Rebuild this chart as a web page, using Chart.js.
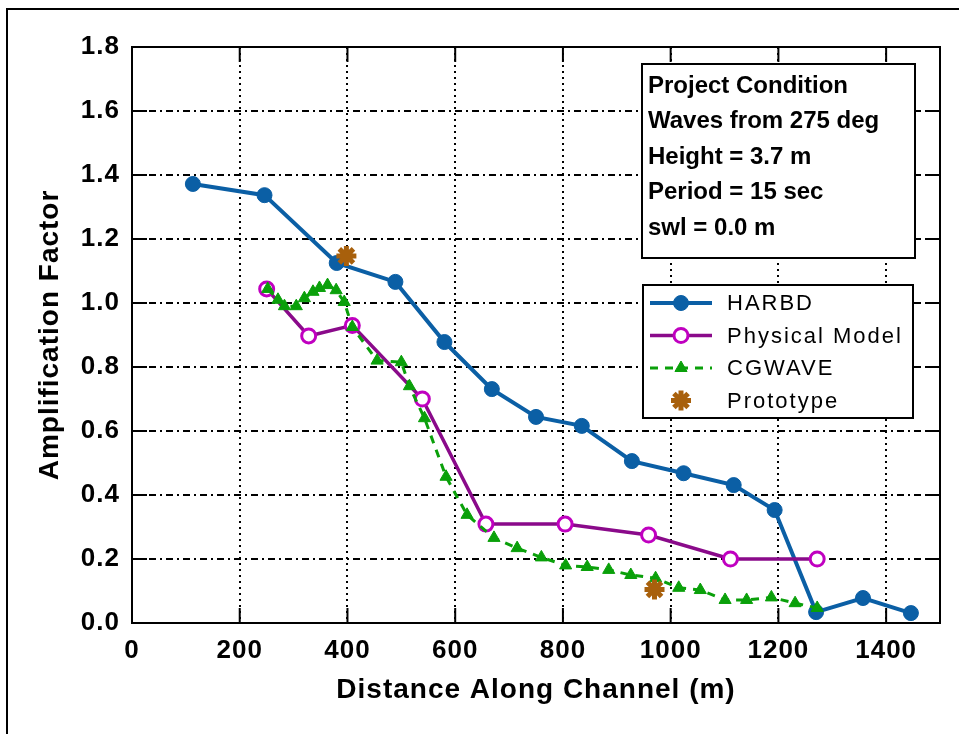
<!DOCTYPE html>
<html>
<head>
<meta charset="utf-8">
<script src="https://cdn.jsdelivr.net/npm/chart.js@4.4.1/dist/chart.umd.min.js"></script>
<style>
  html, body { margin: 0; padding: 0; background: #fff; }
  canvas { display: block; }
</style>
</head>
<body>
<canvas id="chart" width="959" height="734"></canvas>
<script>
// values
const harbdX = [113, 246, 380, 489, 580, 668, 750, 835, 928, 1024, 1117, 1193, 1270, 1357, 1446];
const harbdY = [1.372, 1.337, 1.125, 1.066, 0.878, 0.731, 0.644, 0.616, 0.506, 0.468, 0.431, 0.353, 0.034, 0.078, 0.031];

const physX = [250, 328, 409, 539, 657, 804, 959, 1111, 1272];
const physY = [1.044, 0.897, 0.93, 0.70, 0.309, 0.309, 0.275, 0.20, 0.20];

const cgX = [252, 271, 283, 305, 320, 336, 348, 363, 379, 394, 409, 455, 500, 515, 543, 583, 622, 672, 715, 760, 805, 845, 885, 926, 972, 1015, 1055, 1101, 1141, 1187, 1231, 1272];
const cgY = [1.044, 1.01, 0.99, 0.99, 1.015, 1.035, 1.047, 1.056, 1.04, 1.003, 0.925, 0.82, 0.815, 0.74, 0.64, 0.457, 0.338, 0.266, 0.234, 0.205, 0.18, 0.175, 0.166, 0.15, 0.14, 0.11, 0.103, 0.072, 0.072, 0.08, 0.062, 0.047];

const protoX = [398, 970];
const protoY = [1.147, 0.105];

const infoLines = ['Project Condition', 'Waves from 275 deg', 'Height = 3.7 m', 'Period = 15 sec', 'swl = 0.0 m'];

const FONT = '"Liberation Sans", Arial, Helvetica, sans-serif';

function pts(xs, ys) {
    return xs.map((x, i) => ({ x: x, y: ys[i] }));
}

function drawMarker(c, ds, x, y) {
    const r = ds.pointRadius;
    c.save();
    c.setLineDash([]);
    c.fillStyle = ds.pointBackgroundColor;
    c.strokeStyle = ds.pointBorderColor;
    c.lineWidth = ds.pointBorderWidth;
    c.beginPath();
    if (ds.pointStyle === 'circle') {
        c.arc(x, y, r, 0, Math.PI * 2);
        c.fill();
        c.stroke();
    } else if (ds.pointStyle === 'triangle') {
        c.moveTo(x, y - r);
        c.lineTo(x + r * 0.866, y + r / 2);
        c.lineTo(x - r * 0.866, y + r / 2);
        c.closePath();
        c.fill();
        c.stroke();
    } else {
        for (let k = 0; k < 4; k++) {
            const a = k * Math.PI / 4;
            c.moveTo(x - r * Math.cos(a), y - r * Math.sin(a));
            c.lineTo(x + r * Math.cos(a), y + r * Math.sin(a));
        }
        c.stroke();
    }
    c.restore();
}

const framePlugin = {
    id: 'framePlugin',
    beforeDraw(chart) {
        const c = chart.ctx;
        c.save();
        c.fillStyle = '#fff';
        c.fillRect(0, 0, chart.width, chart.height);
        c.strokeStyle = '#000';
        c.lineWidth = 2;
        c.beginPath();
        c.moveTo(7, chart.height);
        c.lineTo(7, 9);
        c.lineTo(chart.width, 9);
        c.stroke();
        c.restore();
        c.letterSpacing = '1px';
    },
    beforeDatasetsDraw(chart) {
        const c = chart.ctx;
        const a = chart.chartArea;
        const sx = chart.scales.x, sy = chart.scales.y;
        const len = 15;
        c.save();
        c.strokeStyle = '#000';
        c.lineWidth = 2;
        c.setLineDash([]);
        c.strokeRect(a.left, a.top, a.right - a.left, a.bottom - a.top);
        c.beginPath();
        sx.ticks.forEach(t => {
            const px = sx.getPixelForValue(t.value);
            c.moveTo(px, a.bottom); c.lineTo(px, a.bottom - len);
            c.moveTo(px, a.top); c.lineTo(px, a.top + len);
        });
        sy.ticks.forEach(t => {
            const py = sy.getPixelForValue(t.value);
            c.moveTo(a.left, py); c.lineTo(a.left + len, py);
            c.moveTo(a.right, py); c.lineTo(a.right - len, py);
        });
        c.stroke();
        c.restore();
    },
    afterDatasetsDraw(chart) {
        const c = chart.ctx;
        c.save();
        c.setLineDash([]);

        // info box
        c.fillStyle = '#fff';
        c.fillRect(642, 64, 273, 194);
        c.strokeStyle = '#000';
        c.lineWidth = 2;
        c.strokeRect(642, 64, 273, 194);
        c.fillStyle = '#000';
        c.font = 'bold 24px ' + FONT;
        c.letterSpacing = '0px';
        c.textBaseline = 'middle';
        c.textAlign = 'left';
        infoLines.forEach((t, i) => c.fillText(t, 648, 86 + i * 35.5));

        // legend
        c.fillStyle = '#fff';
        c.fillRect(643, 285, 270, 133);
        c.strokeRect(643, 285, 270, 133);
        c.font = '22px ' + FONT;
        c.letterSpacing = '2px';
        chart.data.datasets.forEach((ds, i) => {
            const y = 303 + i * 32.5;
            if (ds.showLine) {
                c.save();
                c.strokeStyle = ds.borderColor;
                c.lineWidth = ds.borderWidth;
                c.setLineDash(ds.borderDash || []);
                c.beginPath();
                c.moveTo(650, y);
                c.lineTo(712, y);
                c.stroke();
                c.restore();
            }
            drawMarker(c, ds, 681, y);
            c.fillStyle = '#000';
            c.fillText(ds.label, 727, y + 1);
        });
        c.restore();
    }
};

const ctx = document.getElementById('chart').getContext('2d');

const chart = new Chart(ctx, {
    type: 'scatter',
    data: {
        datasets: [
            {
                label: 'HARBD',
                data: pts(harbdX, harbdY),
                showLine: true,
                borderColor: '#0B5FA5',
                borderWidth: 4,
                pointStyle: 'circle',
                pointRadius: 7.5,
                pointBackgroundColor: '#0B5FA5',
                pointBorderColor: '#0B5FA5',
                pointBorderWidth: 1,
                order: 4
            },
            {
                label: 'Physical Model',
                data: pts(physX, physY),
                showLine: true,
                borderColor: '#8A0A8A',
                borderWidth: 3.5,
                pointStyle: 'circle',
                pointRadius: 7,
                pointBackgroundColor: '#fff',
                pointBorderColor: '#C000C0',
                pointBorderWidth: 3,
                order: 3
            },
            {
                label: 'CGWAVE',
                data: pts(cgX, cgY),
                showLine: true,
                borderColor: '#0AA00A',
                borderWidth: 3,
                borderDash: [8, 7],
                pointStyle: 'triangle',
                pointRadius: 7,
                pointBackgroundColor: '#0AA00A',
                pointBorderColor: '#0AA00A',
                pointBorderWidth: 1,
                order: 2
            },
            {
                label: 'Prototype',
                data: pts(protoX, protoY),
                showLine: false,
                borderColor: '#A8600C',
                borderWidth: 4,
                pointStyle: 'star',
                pointRadius: 10,
                pointBackgroundColor: '#A8600C',
                pointBorderColor: '#A8600C',
                pointBorderWidth: 5,
                order: 1
            }
        ]
    },
    options: {
        responsive: false,
        animation: false,
        devicePixelRatio: 1,
        layout: { padding: { top: 47, right: 19, left: 0, bottom: 0 } },
        plugins: {
            legend: { display: false },
            tooltip: { enabled: false }
        },
        elements: { line: { tension: 0 } },
        scales: {
            x: {
                type: 'linear',
                min: 0,
                max: 1500,
                afterFit: s => { s.height = 111; },
                ticks: {
                    stepSize: 200,
                    includeBounds: false,
                    maxRotation: 0,
                    color: '#000',
                    padding: 12,
                    font: { family: FONT, size: 26, weight: 'bold' },
                    callback: v => String(v)
                },
                grid: { color: '#000', lineWidth: 2, drawTicks: false },
                border: { display: false, dash: [2, 4] },
                title: {
                    display: true,
                    text: 'Distance Along Channel (m)',
                    color: '#000',
                    font: { family: FONT, size: 28, weight: 'bold' },
                    padding: { top: 0, bottom: 27 }
                }
            },
            y: {
                type: 'linear',
                min: 0,
                max: 1.8,
                afterFit: s => { s.width = 132; },
                ticks: {
                    stepSize: 0.2,
                    color: '#000',
                    padding: 12,
                    font: { family: FONT, size: 26, weight: 'bold' },
                    callback: v => v.toFixed(1)
                },
                grid: { color: '#000', lineWidth: 2, drawTicks: false },
                border: { display: false, dash: [7, 4, 2, 4] },
                title: {
                    display: true,
                    text: 'Amplification Factor',
                    color: '#000',
                    font: { family: FONT, size: 28, weight: 'bold' },
                    padding: { top: 33, bottom: 0 }
                }
            }
        }
    },
    plugins: [framePlugin]
});
</script>
</body>
</html>
